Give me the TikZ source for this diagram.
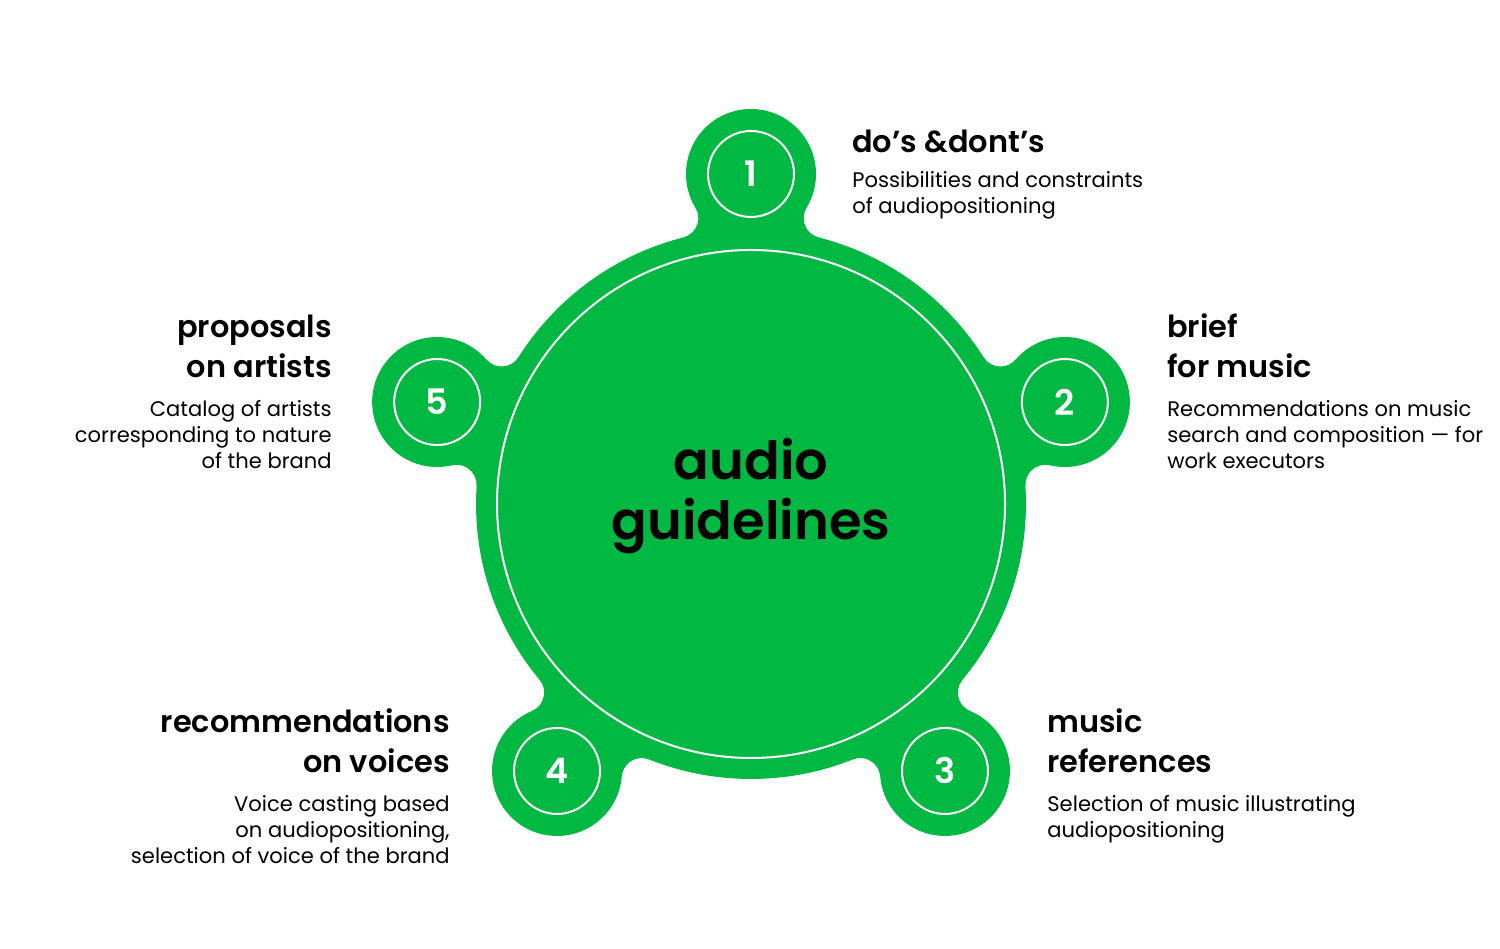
\documentclass[tikz,border=0pt]{standalone}
\usepackage{fontspec}
\setmainfont{Poppins}
\newfontfamily\semib{Poppins SemiBold}
\definecolor{brandgreen}{RGB}{0,184,66}
\begin{document}
\begin{tikzpicture}[x=0.02cm,y=0.02cm,
  blob/.style={fill=brandgreen, draw=none},
  ring/.style={draw=white, line width=0.04cm},
  sat/.style={circle, fill=brandgreen, minimum size=2.6cm, inner sep=0, text=white, font=\fontsize{20}{24}\semib},
  ttl/.style={font=\fontsize{17.3}{20}\semib, inner sep=0},
  body/.style={font=\fontsize{12}{14}\selectfont, inner sep=0},
  hubtext/.style={font=\fontsize{30}{34}\semib, inner sep=0}]
\useasboundingbox (0,0) rectangle (1500,949);
\fill[white] (0,0) rectangle (1500,949);
% necks (fillets)
\foreach \a in {90,18,-54,-126,162} {
  \begin{scope}[shift={(751,445)}, rotate=\a]
    \fill[blob] (0,0) -- (266.53,67.74) arc[start angle=194.26, end angle=301.24, radius=20]
      -- (330,0) -- (296.28,-55.57) arc[start angle=58.76, end angle=165.74, radius=20] -- cycle;
  \end{scope}
}
\node[circle, blob, minimum size=11cm, inner sep=0] (hub) at (751,445) {};
\draw[ring] (hub.center) circle[radius=254];
\node[sat] (s1) at ([shift={(90:330)}]751,445) {1};
\node[sat] (s2) at ([shift={(18:330)}]751,445) {2};
\node[sat] (s3) at ([shift={(-54:330)}]751,445) {3};
\node[sat] (s4) at ([shift={(-126:330)}]751,445) {4};
\node[sat] (s5) at ([shift={(162:330)}]751,445) {5};
\foreach \s in {s1,s2,s3,s4,s5} \draw[ring] (\s.center) circle[radius=43];
% center text
\node[hubtext, anchor=base] (h1) at (751,469) {audio};
\node[hubtext, anchor=base] (h2) at (751,409) {guidelines};
% 1
\node[ttl, anchor=base west] (t1a) at (852,796) {do’s \&dont’s};
\node[body, anchor=base west] (t1b) at (852,761) {Possibilities and constraints};
\node[body, anchor=base west] (t1c) at (852,735) {of audiopositioning};
% 2
\node[ttl, anchor=base west] (t2a) at (1167,611) {brief};
\node[ttl, anchor=base west] (t2b) at (1167,571) {for music};
\node[body, anchor=base west] (t2c) at (1167,532) {Recommendations on music};
\node[body, anchor=base west] (t2d) at (1167,506) {search and composition — for};
\node[body, anchor=base west] (t2e) at (1167,480) {work executors};
% 3
\node[ttl, anchor=base west] (t3a) at (1047,216) {music};
\node[ttl, anchor=base west] (t3b) at (1047,176) {references};
\node[body, anchor=base west] (t3c) at (1047,137) {Selection of music illustrating};
\node[body, anchor=base west] (t3d) at (1047,111) {audiopositioning};
% 4
\node[ttl, anchor=base east] (t4a) at (450,216) {recommendations};
\node[ttl, anchor=base east] (t4b) at (450,176) {on voices};
\node[body, anchor=base east] (t4c) at (450,137) {Voice casting based};
\node[body, anchor=base east] (t4d) at (450,111) {on audiopositioning,};
\node[body, anchor=base east] (t4e) at (450,85) {selection of voice of the brand};
% 5
\node[ttl, anchor=base east] (t5a) at (332,611) {proposals};
\node[ttl, anchor=base east] (t5b) at (332,571) {on artists};
\node[body, anchor=base east] (t5c) at (332,532) {Catalog of artists};
\node[body, anchor=base east] (t5d) at (332,506) {corresponding to nature};
\node[body, anchor=base east] (t5e) at (332,480) {of the brand};
\end{tikzpicture}
\end{document}
